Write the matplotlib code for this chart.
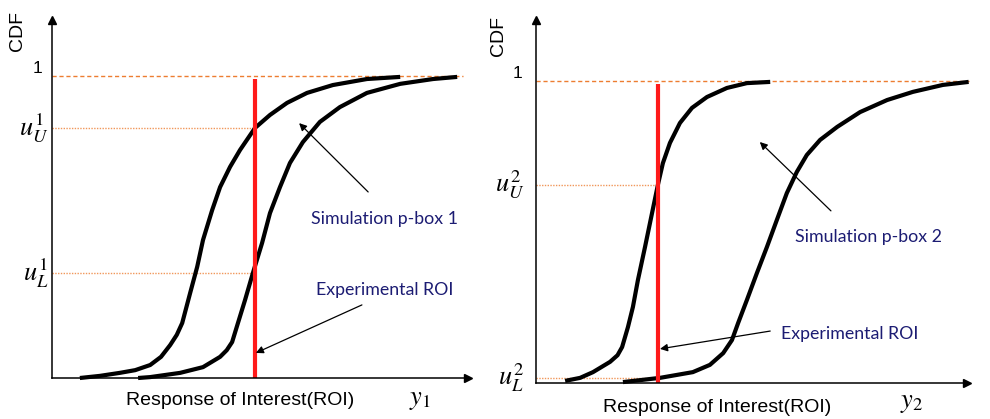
import matplotlib
matplotlib.use("Agg")
import matplotlib.pyplot as plt

plt.rcParams['font.family'] = ['Liberation Sans', 'DejaVu Sans']
plt.rcParams['mathtext.fontset'] = 'stix'

# ---------------------------------------------------------------------------
# p-box bounds (response units vs. CDF)
# ---------------------------------------------------------------------------
pbox1_left_x = [0.67, 1.15, 1.63, 2.00, 2.36, 2.62, 2.84, 3.00, 3.13, 3.32, 3.49, 3.63, 3.85, 4.04,
                4.28, 4.52, 4.88, 5.24, 5.65, 6.13, 6.75, 7.57, 8.37]
pbox1_left_y = [0.000, 0.007, 0.017, 0.026, 0.043, 0.070, 0.109, 0.143, 0.182, 0.281, 0.368, 0.457,
                0.556, 0.632, 0.699, 0.755, 0.828, 0.871, 0.911, 0.944, 0.970, 0.990, 0.997]

pbox1_right_x = [2.07, 2.36, 3.08, 3.63, 4.04, 4.20, 4.33, 4.47, 4.64, 4.83, 5.05, 5.24, 5.48, 5.72,
                 6.03, 6.44, 6.92, 7.57, 8.37, 9.16, 9.74]
pbox1_right_y = [0.000, 0.003, 0.017, 0.036, 0.070, 0.092, 0.119, 0.182, 0.258, 0.348, 0.447, 0.546,
                 0.632, 0.712, 0.781, 0.848, 0.897, 0.944, 0.974, 0.990, 0.997]

pbox2_left_x = [0.70, 1.06, 1.37, 1.78, 1.96, 2.07, 2.21, 2.33, 2.45, 2.62, 2.79, 2.93, 3.05, 3.22,
                3.46, 3.75, 4.11, 4.59, 5.07, 5.63]
pbox2_left_y = [0.007, 0.017, 0.036, 0.070, 0.092, 0.119, 0.185, 0.252, 0.341, 0.450, 0.563, 0.656,
                0.728, 0.795, 0.861, 0.911, 0.947, 0.977, 0.993, 0.997]

pbox2_right_x = [2.09, 2.98, 3.77, 4.18, 4.50, 4.71, 4.86, 5.07, 5.31, 5.55, 5.79, 6.03, 6.27,
                 6.51, 6.83, 7.24, 7.79, 8.44, 9.06, 9.78, 10.40]
pbox2_right_y = [0.003, 0.017, 0.036, 0.060, 0.099, 0.142, 0.199, 0.275, 0.364, 0.450, 0.540, 0.629,
                 0.699, 0.755, 0.805, 0.848, 0.897, 0.937, 0.964, 0.987, 0.997]

# experimental response and the CDF bounds it picks off each p-box
roi_1 = 4.88
roi_2 = 2.93
u_bounds_1 = [0.348, 0.828]   # u_L^1, u_U^1
u_bounds_2 = [0.017, 0.656]   # u_L^2, u_U^2
roi_top = 0.99

ORANGE = '#ED7D31'
NAVY = '#1c1c73'
RED = '#ff1a1a'


def style_axis(ax, xmax, ymax):
    ax.set_xlim(0, xmax)
    ax.set_ylim(0, ymax)
    for side in ('top', 'right'):
        ax.spines[side].set_visible(False)
    for side in ('left', 'bottom'):
        ax.spines[side].set_linewidth(1.1)
    ax.set_xticks([])
    ax.set_yticks([])
    ax.patch.set_alpha(0)
    # arrow heads on the axes
    ax.plot(1, 0, '>k', ms=6, transform=ax.transAxes, clip_on=False)
    ax.plot(0, 1, '^k', ms=6, transform=ax.transAxes, clip_on=False)


def draw_panel(ax, curves, roi, u_bounds, idx, xmax, ymax, one_end,
               sim_txt, sim_tail, sim_head, exp_txt, exp_tail, exp_head,
               ylab_dx, resp_pos, y_pos, cdf_pos):
    style_axis(ax, xmax, ymax)

    # CDF = 1 reference and the bounds read at the experimental response
    ax.plot([0, one_end], [1, 1], color=ORANGE, lw=1.0, ls=(0, (3, 2)), clip_on=False)
    for u in u_bounds:
        ax.plot([0, roi], [u, u], color=ORANGE, lw=1.0, ls=(0, (1, 1)), alpha=0.8)

    for cx, cy in curves:
        ax.plot(cx, cy, color='black', lw=3.0, solid_capstyle='butt',
                solid_joinstyle='round', clip_on=False)

    ax.plot([roi, roi], [0, roi_top], color=RED, lw=3.0, solid_capstyle='butt')

    # labels on the CDF axis
    ytr = ax.get_yaxis_transform()
    ax.text(ylab_dx[0], 1.0, '1', transform=ytr, ha='center', va='bottom', fontsize=12.5)
    ax.text(ylab_dx[1], u_bounds[1], r'$u_U^{%d}$' % idx, transform=ytr,
            ha='right', va='center', fontsize=19)
    ax.text(ylab_dx[1], u_bounds[0], r'$u_L^{%d}$' % idx, transform=ytr,
            ha='right', va='center', fontsize=19)

    ax.text(cdf_pos[0], cdf_pos[1], 'CDF', transform=ax.transAxes, rotation=90,
            ha='center', va='center', fontsize=14)
    ax.text(resp_pos[0], resp_pos[1], 'Response of Interest(ROI)', transform=ax.transAxes,
            ha='center', va='center', fontsize=14)
    ax.text(y_pos[0], y_pos[1], r'$y_{%d}$' % idx, transform=ax.transAxes,
            ha='center', va='center', fontsize=19)

    # callouts
    arrow = dict(arrowstyle='-|>', color='black', lw=0.9, mutation_scale=11, shrinkA=0, shrinkB=0)
    ax.text(sim_txt[0], sim_txt[1], sim_txt[2], ha='center', va='center',
            color=NAVY, fontsize=12.8, family='Lato')
    ax.annotate('', xy=sim_head, xytext=sim_tail, arrowprops=arrow)
    ax.text(exp_txt[0], exp_txt[1], exp_txt[2], ha='center', va='center',
            color=NAVY, fontsize=12.8, family='Lato')
    ax.annotate('', xy=exp_head, xytext=exp_tail, arrowprops=arrow)


fig = plt.figure(figsize=(9.9, 4.19), dpi=100)
W, H = 990.0, 419.0

ax1 = fig.add_axes([52 / W, (H - 378) / H, 416 / W, 358 / H])
ax2 = fig.add_axes([536 / W, (H - 383) / H, 431 / W, 363 / H])

draw_panel(ax1,
           [(pbox1_left_x, pbox1_left_y), (pbox1_right_x, pbox1_right_y)],
           roi_1, u_bounds_1, 1, 10.0, 358 / 302, 9.88,
           (8.00, 0.526, 'Simulation p-box 1'), (7.60, 0.616), (5.94, 0.844),
           (8.00, 0.291, 'Experimental ROI'), (7.45, 0.242), (4.90, 0.083),
           (-0.034, -0.008), (0.452, -0.062), (0.885, -0.061), (-0.082, 0.97))

draw_panel(ax2,
           [(pbox2_left_x, pbox2_left_y), (pbox2_right_x, pbox2_right_y)],
           roi_2, u_bounds_2, 2, 431 / 41.6, 363 / 302, 10.4,
           (8.00, 0.483, 'Simulation p-box 2'), (7.09, 0.570), (5.38, 0.798),
           (7.55, 0.162, 'Experimental ROI'), (5.63, 0.172), (2.98, 0.113),
           (-0.043, -0.028), (0.42, -0.068), (0.872, -0.056), (-0.086, 0.956))

fig.savefig('out.png', dpi=100, facecolor='white')
